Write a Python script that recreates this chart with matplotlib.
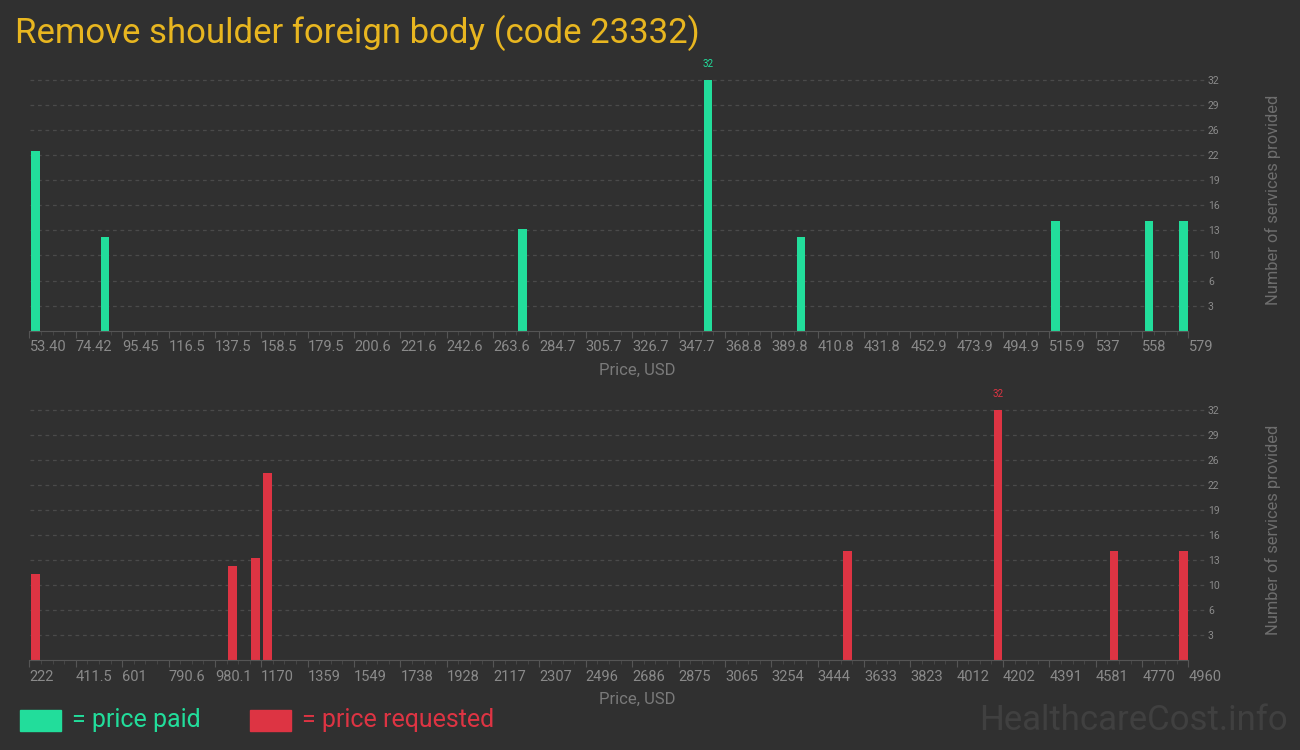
import matplotlib.pyplot as plt
import matplotlib.transforms as mtransforms
from matplotlib.patches import Rectangle
import numpy as np

# price paid (top panel)
paid_prices = [56.2, 87.7, 277.0, 361.1, 403.3, 518.7, 561.1, 576.7]
paid_counts = [23, 12, 13, 32, 12, 14, 14, 14]
paid_ticks = ["53.40", "74.42", "95.45", "116.5", "137.5", "158.5", "179.5", "200.6",
              "221.6", "242.6", "263.6", "284.7", "305.7", "326.7", "347.7", "368.8",
              "389.8", "410.8", "431.8", "452.9", "473.9", "494.9", "515.9", "537",
              "558", "579"]

# price requested (bottom panel)
req_prices = [247, 1052, 1146, 1195, 3566, 4181, 4656, 4940]
req_counts = [11, 12, 13, 24, 14, 32, 14, 14]
req_ticks = ["222", "411.5", "601", "790.6", "980.1", "1170", "1359", "1549", "1738",
             "1928", "2117", "2307", "2496", "2686", "2875", "3065", "3254", "3444",
             "3633", "3823", "4012", "4202", "4391", "4581", "4770", "4960"]

y_max = 32
y_tick_labels = ["3", "6", "10", "13", "16", "19", "22", "26", "29", "32"]

BG = "#303030"
GREEN = "#22dd9b"
RED = "#dd3443"
GOLD = "#e8b620"
GRAY = "#8a8a8a"
TICK_FONT = ["Roboto", "DejaVu Sans"]

plt.rcParams['font.family'] = ["Roboto", "DejaVu Sans"]

fig = plt.figure(figsize=(13, 7.5), dpi=100, facecolor=BG)


def draw_panel(ax, prices, counts, tick_labels, color):
    lo, hi = float(tick_labels[0]), float(tick_labels[-1])
    span = hi - lo
    ax.set_facecolor(BG)
    ax.bar(prices, counts, width=span / 136, color=color, zorder=3)
    ax.set_xlim(lo, hi)
    ax.set_ylim(0, y_max)

    major = np.linspace(lo, hi, len(tick_labels))
    ax.set_xticks(major)
    ax.set_xticklabels(tick_labels, fontsize=10.5, color=GRAY, family=TICK_FONT, ha='left')
    offset = mtransforms.ScaledTranslation(-4 / 100, 0, fig.dpi_scale_trans)
    for lbl in ax.get_xticklabels():
        lbl.set_transform(lbl.get_transform() + offset)
    ax.set_xticks(np.linspace(lo, hi, (len(tick_labels) - 1) * 4 + 1), minor=True)
    ax.tick_params(axis='x', which='major', length=5, color='#555555', pad=2)
    ax.tick_params(axis='x', which='minor', length=3, color='#4a4a4a')

    yt = np.linspace(y_max / 10, y_max, 10)
    ax.yaxis.tick_right()
    ax.set_yticks(yt)
    ax.set_yticklabels(y_tick_labels, fontsize=7.5, color=GRAY, family=TICK_FONT)
    ax.tick_params(axis='y', length=0, pad=14)
    trans = mtransforms.blended_transform_factory(ax.transAxes, ax.transData)
    ax.hlines(yt, 0, 1.014, transform=trans, colors='#4a4a4a', linestyles=(0, (3, 3)),
              linewidth=0.9, zorder=1, clip_on=False)

    for side in ['top', 'right', 'left']:
        ax.spines[side].set_visible(False)
    ax.spines['bottom'].set_color('#555555')
    ax.spines['bottom'].set_zorder(4)

    ax.set_xlabel("Price, USD", fontsize=12, color='#7a7a7a')
    ax.xaxis.set_label_coords((637 - 29.5) / 1159, -0.128)
    ax.yaxis.set_label_position('right')
    ax.set_ylabel("Number of services provided", fontsize=11.8, color='#6e6e6e')
    ax.yaxis.set_label_coords((1265 - 29.5) / 1159, 0.52)

    i = int(np.argmax(counts))
    ax.annotate(str(counts[i]), (prices[i], counts[i]), xytext=(0, 8),
                textcoords='offset points', ha='center', va='bottom',
                fontsize=7, color=color, family=TICK_FONT)


ax_top = fig.add_axes([29.5 / 1300, 1 - 330.7 / 750, 1159 / 1300, 250.7 / 750])
draw_panel(ax_top, paid_prices, paid_counts, paid_ticks, GREEN)

ax_bot = fig.add_axes([29.5 / 1300, 1 - 660 / 750, 1159 / 1300, 250 / 750])
draw_panel(ax_bot, req_prices, req_counts, req_ticks, RED)

fig.text(15 / 1300, 1 - 33 / 750, "Remove shoulder foreign body (code 23332)",
         fontsize=25, color=GOLD, va='center', ha='left')

# legend
fig.patches.append(Rectangle((20 / 1300, 19 / 750), 41 / 1300, 21 / 750,
                             transform=fig.transFigure, color=GREEN))
fig.text(72 / 1300, 1 - 720 / 750, "= price paid", fontsize=18, color=GREEN, va='center')
fig.patches.append(Rectangle((250 / 1300, 19 / 750), 41 / 1300, 21 / 750,
                             transform=fig.transFigure, color=RED))
fig.text(302 / 1300, 1 - 720 / 750, "= price requested", fontsize=18, color=RED, va='center')

fig.text(1288 / 1300, 1 - 720 / 750, "HealthcareCost.info", fontsize=25,
         color='#404040', ha='right', va='center')

fig.savefig("out.png", dpi=100, facecolor=BG)
